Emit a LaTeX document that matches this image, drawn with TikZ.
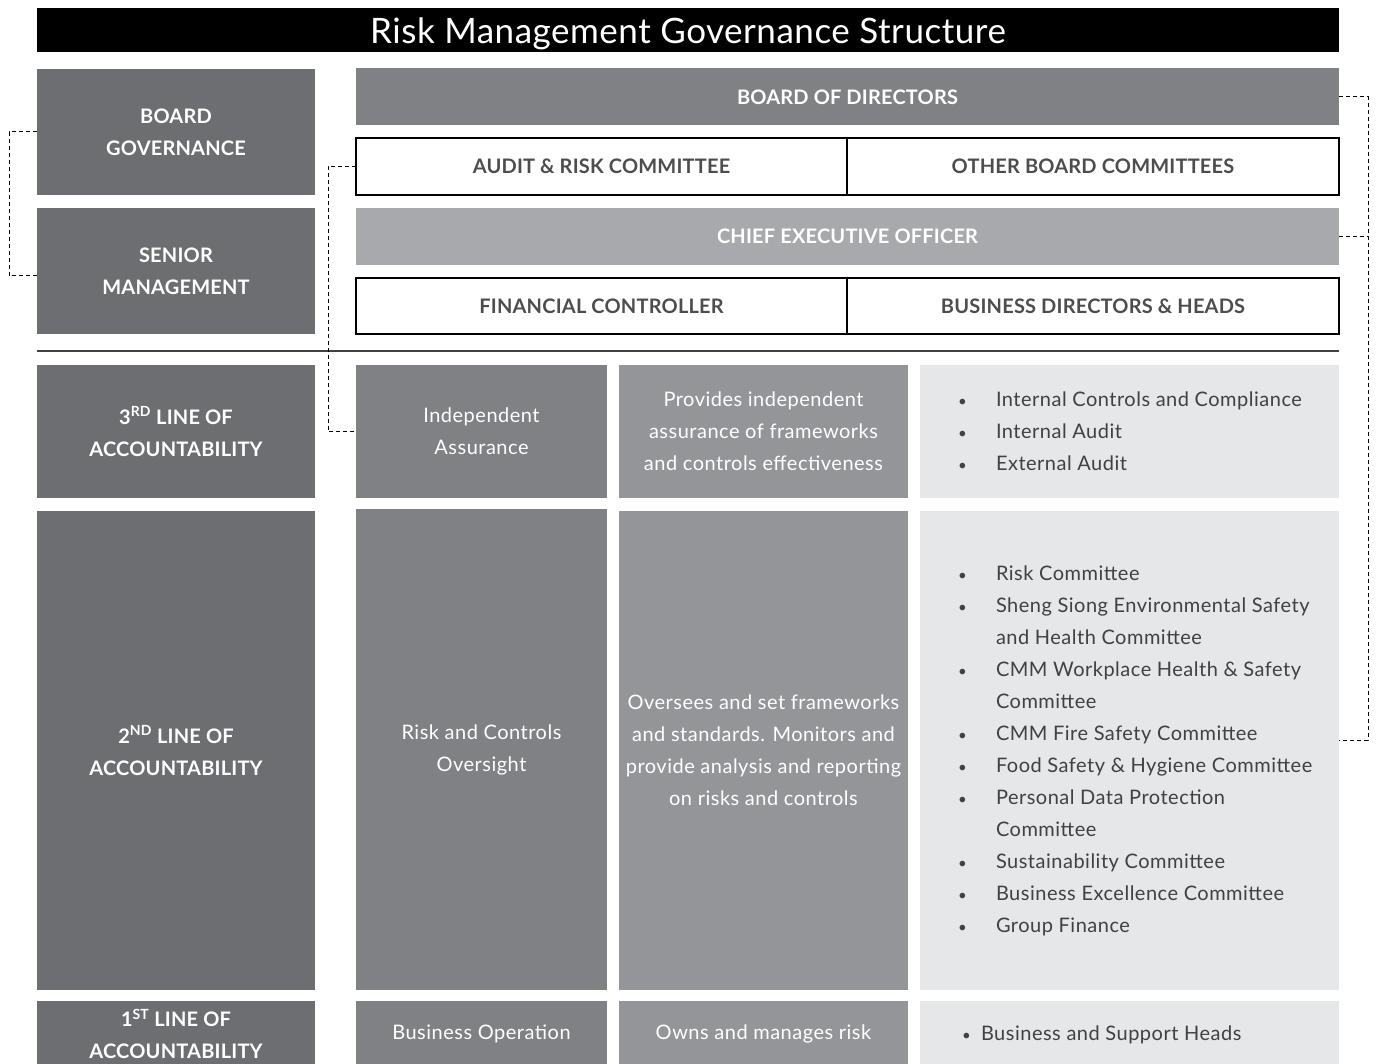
\documentclass[tikz,border=0pt]{standalone}
\usepackage{fontspec}
\setmainfont{Lato}
\newfontfamily\bodyfont{Lato}[LetterSpace=2.5]
\newfontfamily\headfont{Lato}[LetterSpace=1]
\newfontfamily\titlefont{Lato}[LetterSpace=1.5]
\usetikzlibrary{positioning}
\definecolor{cDark}{HTML}{6D6E71}
\definecolor{cMid}{HTML}{808184}
\definecolor{cCeo}{HTML}{A7A9AC}
\definecolor{cCol2}{HTML}{939598}
\definecolor{cLight}{HTML}{E6E7E8}
\definecolor{cText}{HTML}{414042}
\definecolor{cHead}{HTML}{4D4D4F}
\tikzset{
  cell/.style={inner sep=0pt, outer sep=0pt, align=center,
    font=\bodyfont\fontsize{20}{32}\selectfont},
  leftbox/.style={cell, fill=cDark, text=white, font=\headfont\fontsize{20}{32}\selectfont\bfseries, minimum width=278pt},
  topbar/.style={cell, text=white, font=\headfont\fontsize{20}{32}\selectfont\bfseries, minimum width=983pt, minimum height=57pt},
  whitebox/.style={cell, draw=black, line width=1.3pt, text=cHead, font=\headfont\fontsize{20}{32}\selectfont\bfseries, minimum height=57pt},
  colone/.style={cell, fill=cMid, text=white, minimum width=251pt},
  coltwo/.style={cell, fill=cCol2, text=white, minimum width=289pt},
  colthree/.style={cell, fill=cLight, minimum width=419pt},
  listtext/.style={inner sep=0pt, outer sep=0pt, text=cText, anchor=west, align=left,
    font=\bodyfont\fontsize{20}{32}\selectfont},
  dashline/.style={draw=black, line width=1pt, dash pattern=on 4pt off 3pt}
}
\newcommand{\bl}{\scalebox{0.75}{\textbullet}}
\newcommand{\blist}[1]{\begin{tabular}{@{}p{38pt}@{}l@{}}#1\end{tabular}}
\begin{document}
\begin{tikzpicture}[x=1pt,y=-1pt]
\useasboundingbox (0,0) rectangle (1381,1064);
% title
\node[cell, fill=black, text=white, minimum width=1302pt, minimum height=44pt,
  text height=30pt, text depth=3pt,
  font=\titlefont\fontsize{35}{40}\selectfont] (title) at (688,30) {Risk Management Governance Structure};
% left column
\node[leftbox, minimum height=126pt] (bg) at (176,132) {BOARD\\GOVERNANCE};
\node[leftbox, minimum height=126pt] (sm) at (176,271) {SENIOR\\MANAGEMENT};
\node[leftbox, minimum height=133pt] (l3) at (176,431.5) {3\textsuperscript{RD} LINE OF\\ACCOUNTABILITY};
\node[leftbox, minimum height=479pt] (l2) at (176,750.5) {2\textsuperscript{ND} LINE OF\\ACCOUNTABILITY};
\node[leftbox, minimum height=66pt] (l1) at (176,1034) {1\textsuperscript{ST} LINE OF\\ACCOUNTABILITY};
% top right
\node[topbar, fill=cMid] (bod) at (847.5,97) {BOARD OF DIRECTORS};
\node[whitebox, minimum width=491pt] (arc) at (601.5,166.5) {AUDIT \& RISK COMMITTEE};
\node[whitebox, minimum width=492pt] (obc) at (1093,166.5) {OTHER BOARD COMMITTEES};
\node[topbar, fill=cCeo] (ceo) at (847.5,236.5) {CHIEF EXECUTIVE OFFICER};
\node[whitebox, minimum width=491pt, minimum height=56pt] (fc) at (601.5,306) {FINANCIAL CONTROLLER};
\node[whitebox, minimum width=492pt, minimum height=56pt] (bdh) at (1093,306) {BUSINESS DIRECTORS \& HEADS};
% separator
\coordinate (sepL) at (37,351);
\coordinate (sepR) at (1339,351);
\draw[cText, line width=1.5pt] (sepL) -- (sepR);
% rows
\node[colone, minimum height=133pt] (r3c1) at (481.5,431.5) {Independent\\Assurance};
\node[coltwo, minimum height=133pt] (r3c2) at (763.5,431.5) {Provides independent\\assurance of frameworks\\and controls effectiveness};
\node[colthree, minimum height=133pt] (r3c3) at (1129.5,431.5) {};
\node[colone, minimum height=481pt] (r2c1) at (481.5,749.5) {Risk and Controls\\Oversight};
\node[coltwo, minimum height=479pt] (r2c2) at (763.5,750.5) {Oversees and set frameworks\\and standards. Monitors and\\provide analysis and reporting\\on risks and controls};
\node[colthree, minimum height=479pt] (r2c3) at (1129.5,750.5) {};
\node[colone, minimum height=66pt] (r1c1) at (481.5,1034) {Business Operation};
\node[coltwo, minimum height=66pt] (r1c2) at (763.5,1034) {Owns and manages risk};
\node[colthree, minimum height=66pt] (r1c3) at (1129.5,1034) {};
% lists
\node[listtext] (list3) at (958,432) {\blist{\bl & Internal Controls and Compliance\\
\bl & Internal Audit\\
\bl & External Audit}};
\node[listtext] (list2) at (958,750.5) {\blist{\bl & Risk Committee\\
\bl & Sheng Siong Environmental Safety\\
 & and Health Committee\\
\bl & CMM Workplace Health \& Safety\\
 & Committee\\
\bl & CMM Fire Safety Committee\\
\bl & Food Safety \& Hygiene Committee\\
\bl & Personal Data Protection\\
 & Committee\\
\bl & Sustainability Committee\\
\bl & Business Excellence Committee\\
\bl & Group Finance}};
\node[listtext] (list1) at (962,1034) {\begin{tabular}{@{}p{19pt}@{}l@{}}\bl & Business and Support Heads\end{tabular}};
% dashed connectors
\draw[dashline] (bg.west) -- ++(-28,0) |- ([yshift=-5pt]sm.west);
\draw[dashline] (arc.west) -- ++(-28,0) |- (r3c1.west);
\coordinate (rjoin) at (1339,740);
\draw[dashline] (bod.east) -- ++(29,0) |- (rjoin);
\draw[dashline] (ceo.east) -- ++(29,0);
\end{tikzpicture}
\end{document}
